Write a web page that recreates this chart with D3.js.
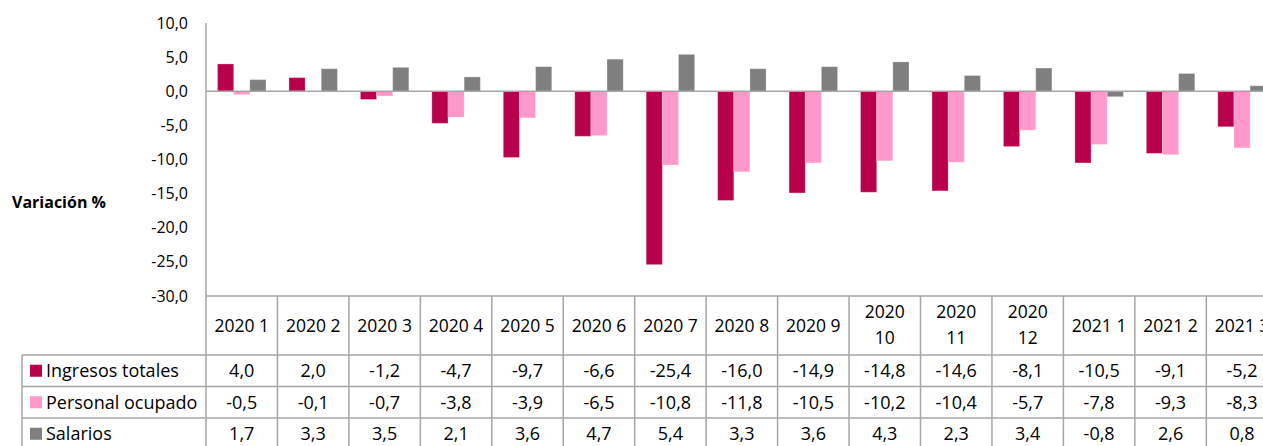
<!DOCTYPE html>
<html>
<head>
<meta charset="utf-8">
<script src="https://d3js.org/d3.v7.min.js"></script>
<style>
    body{
        margin: 0;
        background: #fff;
        overflow: hidden;
    }
    svg text{
        font-family: "Open Sans", "Noto Sans", sans-serif;
        fill: #000;
    }
</style>
</head>
<body>
<svg id="chart" width="1263" height="446"></svg>
<script>
    // periods (year month)
    const periods = ["2020 1","2020 2","2020 3","2020 4","2020 5","2020 6","2020 7","2020 8",
        "2020 9","2020 10","2020 11","2020 12","2021 1","2021 2","2021 3"];
    const seriesNames = ["Ingresos totales","Personal ocupado","Salarios"];
    const ingresos = [4.0, 2.0, -1.2, -4.7, -9.7, -6.6, -25.4, -16.0, -14.9, -14.8, -14.6, -8.1, -10.5, -9.1, -5.2];
    const personal = [-0.5, -0.1, -0.7, -3.8, -3.9, -6.5, -10.8, -11.8, -10.5, -10.2, -10.4, -5.7, -7.8, -9.3, -8.3];
    const salarios = [1.7, 3.3, 3.5, 2.1, 3.6, 4.7, 5.4, 3.3, 3.6, 4.3, 2.3, 3.4, -0.8, 2.6, 0.8];
    const yTicks = [10, 5, 0, -5, -10, -15, -20, -25, -30];
    const colors = ["#B8004B", "#FF99CC", "#7F7F7F"];

    const values = [ingresos, personal, salarios];

    const svg = d3.select("#chart");
    const lineColor = "#A6A6A6";

    // spanish number format: comma decimal, plain hyphen
    const loc = d3.formatLocale({decimal: ",", thousands: ".", grouping: [3], currency: ["", ""], minus: "-"});
    const fmt = loc.format(".1f");

    const plotLeft = 206, colW = 71.45;
    const plotTop = 23, plotBottom = 296;

    let x = d3.scaleBand()
        .domain(periods)
        .range([plotLeft, plotLeft + colW * periods.length])
        .padding(0);

    let x1 = d3.scaleBand()
        .domain(seriesNames)
        .range([11.5, x.bandwidth() - 11.5]);

    let y = d3.scaleLinear()
        .domain([-30, 10])
        .range([plotBottom, plotTop]);

    // y axis labels
    svg.append("g")
        .selectAll("text")
        .data(yTicks)
        .join("text")
        .attr("x", 188)
        .attr("y", d => y(d))
        .attr("dy", "0.35em")
        .attr("text-anchor", "end")
        .attr("font-size", "16px")
        .text(d => fmt(d));

    svg.append("text")
        .attr("x", 12)
        .attr("y", 202)
        .attr("dy", "0.35em")
        .attr("font-size", "16px")
        .attr("font-weight", "bold")
        .text("Variación %");

    // bars
    const groups = svg.append("g")
        .selectAll("g")
        .data(seriesNames)
        .join("g")
        .attr("fill", (d, i) => colors[i]);

    groups.selectAll("rect")
        .data((s, si) => periods.map((p, i) => ({p: p, s: s, v: values[si][i]})))
        .join("rect")
        .attr("x", d => x(d.p) + x1(d.s))
        .attr("width", x1.bandwidth())
        .attr("y", d => y(Math.max(0, d.v)))
        .attr("height", d => Math.abs(y(d.v) - y(0)))
        .attr("stroke", "#fff")
        .attr("stroke-opacity", 0.25)
        .attr("stroke-width", 1);

    // zero line and axis line
    svg.append("line")
        .attr("x1", plotLeft).attr("x2", x.range()[1])
        .attr("y1", y(0)).attr("y2", y(0))
        .attr("stroke", lineColor).attr("stroke-width", 1.5);

    svg.append("line")
        .attr("x1", plotLeft).attr("x2", plotLeft)
        .attr("y1", plotTop).attr("y2", plotBottom)
        .attr("stroke", lineColor).attr("stroke-width", 1.5);

    // data table under the chart
    const headTop = plotBottom, headBottom = 355, rowH = 31.5;
    const tableBottom = headBottom + rowH * 3;
    const table = svg.append("g");

    // horizontal lines
    table.append("line")
        .attr("x1", plotLeft).attr("x2", x.range()[1])
        .attr("y1", headTop).attr("y2", headTop)
        .attr("stroke", lineColor).attr("stroke-width", 1.5);
    [0, 1, 2, 3].forEach(r => {
        table.append("line")
            .attr("x1", 22).attr("x2", x.range()[1])
            .attr("y1", headBottom + r * rowH).attr("y2", headBottom + r * rowH)
            .attr("stroke", lineColor).attr("stroke-width", 1.5);
    });

    // vertical lines
    periods.forEach((p, i) => {
        table.append("line")
            .attr("x1", x(p)).attr("x2", x(p))
            .attr("y1", headTop).attr("y2", tableBottom)
            .attr("stroke", lineColor).attr("stroke-width", 1.5);
    });
    table.append("line")
        .attr("x1", x.range()[1]).attr("x2", x.range()[1])
        .attr("y1", headTop).attr("y2", tableBottom)
        .attr("stroke", lineColor).attr("stroke-width", 1.5);
    table.append("line")
        .attr("x1", 22).attr("x2", 22)
        .attr("y1", headBottom).attr("y2", tableBottom)
        .attr("stroke", lineColor).attr("stroke-width", 1.5);

    // header labels (wrap the long ones like excel does)
    periods.forEach(p => {
        const cx = x(p) + x.bandwidth() / 2;
        const t = table.append("text")
            .attr("text-anchor", "middle")
            .attr("font-size", "17.5px");
        if (p.length > 6) {
            const parts = p.split(" ");
            t.append("tspan").attr("x", cx).attr("y", 312).attr("dy", "0.35em").text(parts[0]);
            t.append("tspan").attr("x", cx).attr("y", 338).attr("dy", "0.35em").text(parts[1]);
        } else {
            t.attr("x", cx).attr("y", 326).attr("dy", "0.35em").text(p);
        }
    });

    // legend keys and values
    seriesNames.forEach((s, si) => {
        const cy = headBottom + rowH * si + rowH / 2;
        table.append("rect")
            .attr("x", 30).attr("y", cy - 6)
            .attr("width", 12).attr("height", 12)
            .attr("fill", colors[si]);
        table.append("text")
            .attr("x", 46).attr("y", cy)
            .attr("dy", "0.35em")
            .attr("font-size", "18px")
            .text(s);
        table.append("g")
            .selectAll("text")
            .data(values[si])
            .join("text")
            .attr("x", (d, i) => x(periods[i]) + x.bandwidth() / 2)
            .attr("y", cy)
            .attr("dy", "0.35em")
            .attr("text-anchor", "middle")
            .attr("font-size", "18px")
            .text(d => fmt(d));
    });
</script>
</body>
</html>
